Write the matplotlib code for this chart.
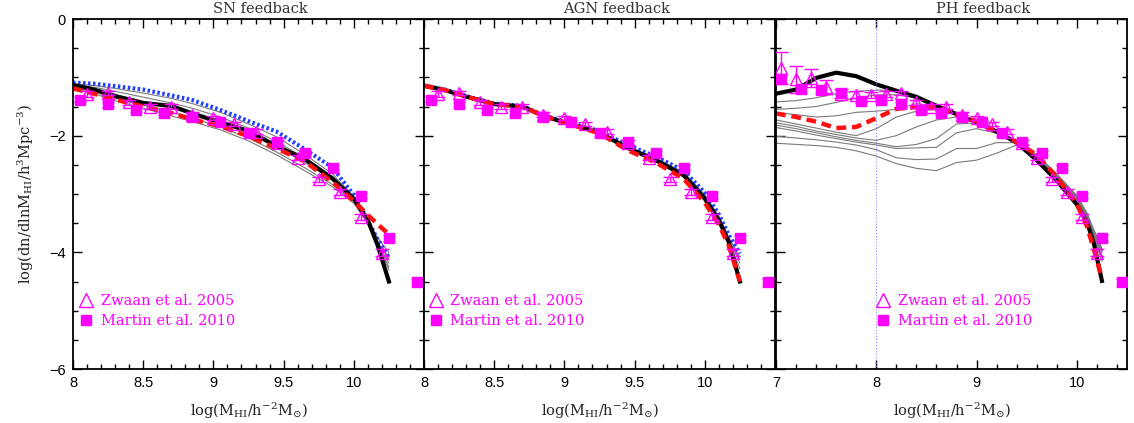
import matplotlib
matplotlib.use('Agg')
import matplotlib.pyplot as plt
from matplotlib.lines import Line2D
from matplotlib.ticker import FixedLocator, MultipleLocator, FuncFormatter

# observations (same in every panel)
zwaan_x = [7.05, 7.2, 7.35, 7.5, 7.65, 7.8, 7.95, 8.1, 8.25, 8.4, 8.55, 8.7,
           8.85, 9.0, 9.15, 9.3, 9.45, 9.6, 9.75, 9.9, 10.05, 10.2]
zwaan_y = [-0.84, -1.03, -1.01, -1.17, -1.28, -1.30, -1.30, -1.29, -1.27, -1.43, -1.50, -1.50,
           -1.64, -1.70, -1.80, -1.93, -2.12, -2.38, -2.75, -2.97, -3.40, -4.01]
zwaan_err = [0.28, 0.23, 0.15, 0.12, 0.08, 0.06, 0.05, 0.05, 0.04, 0.04, 0.04, 0.04,
             0.04, 0.04, 0.04, 0.04, 0.04, 0.04, 0.04, 0.05, 0.05, 0.06]
martin_x = [7.05, 7.25, 7.45, 7.65, 7.85, 8.05, 8.25, 8.45, 8.65, 8.85, 9.05, 9.25,
            9.45, 9.65, 9.85, 10.05, 10.25, 10.45]
martin_y = [-1.03, -1.20, -1.21, -1.26, -1.40, -1.385, -1.46, -1.56, -1.61, -1.68, -1.77, -1.96,
            -2.11, -2.30, -2.55, -3.03, -3.76, -4.51]
martin_err = [0.06, 0.05, 0.05, 0.04, 0.04, 0.04, 0.04, 0.04, 0.04, 0.04, 0.04, 0.04,
              0.04, 0.04, 0.04, 0.04, 0.05, 0.06]

# SN feedback models
sn_x = [8.0, 8.15, 8.3, 8.5, 8.7, 8.85, 9.05, 9.25, 9.45, 9.65, 9.85, 10.0, 10.1, 10.17, 10.25]
sn_black = [-1.13, -1.21, -1.32, -1.44, -1.49, -1.62, -1.77, -1.92, -2.18, -2.40, -2.74, -3.08, -3.45, -3.88, -4.50]
sn_red = [-1.19, -1.28, -1.38, -1.50, -1.61, -1.72, -1.84, -2.01, -2.22, -2.44, -2.80, -3.12, -3.36, -3.52, -3.69]
sn_blue = [-1.09, -1.11, -1.15, -1.21, -1.31, -1.39, -1.56, -1.75, -1.93, -2.23, -2.55, -3.02, -3.46, -3.78, -4.09]
sn_grey = [
    [-1.11, -1.14, -1.19, -1.27, -1.36, -1.45, -1.60, -1.80, -2.02, -2.32, -2.66, -3.05, -3.45, -3.75, -4.00],
    [-1.12, -1.17, -1.24, -1.34, -1.44, -1.53, -1.68, -1.87, -2.10, -2.38, -2.70, -3.08, -3.48, -3.82, -4.10],
    [-1.14, -1.21, -1.30, -1.41, -1.53, -1.62, -1.76, -1.95, -2.19, -2.46, -2.76, -3.10, -3.50, -3.85, -4.18],
    [-1.16, -1.25, -1.36, -1.48, -1.60, -1.70, -1.85, -2.04, -2.28, -2.55, -2.84, -3.14, -3.50, -3.86, -4.25],
    [-1.18, -1.28, -1.40, -1.53, -1.66, -1.76, -1.90, -2.09, -2.33, -2.60, -2.88, -3.16, -3.50, -3.88, -4.30],
]

# AGN feedback models
agn_x = [8.0, 8.15, 8.3, 8.5, 8.7, 8.85, 9.05, 9.25, 9.45, 9.65, 9.85, 10.0, 10.1, 10.17, 10.25]
agn_black = [-1.145, -1.22, -1.33, -1.46, -1.50, -1.66, -1.81, -1.95, -2.21, -2.42, -2.68, -3.08, -3.45, -3.82, -4.50]
agn_red = [-1.145, -1.22, -1.33, -1.46, -1.50, -1.66, -1.81, -1.96, -2.25, -2.46, -2.74, -3.15, -3.52, -3.88, -4.50]
agn_blue = [-1.14, -1.21, -1.32, -1.45, -1.49, -1.65, -1.79, -1.92, -2.16, -2.36, -2.60, -2.98, -3.35, -3.70, -4.02]
agn_grey = [
    [-1.14, -1.21, -1.32, -1.45, -1.49, -1.65, -1.80, -1.93, -2.18, -2.38, -2.63, -3.01, -3.38, -3.74, -4.08],
    [-1.14, -1.21, -1.32, -1.45, -1.50, -1.65, -1.80, -1.94, -2.19, -2.39, -2.64, -3.03, -3.40, -3.77, -4.18],
    [-1.145, -1.22, -1.33, -1.46, -1.50, -1.66, -1.81, -1.94, -2.20, -2.40, -2.66, -3.05, -3.42, -3.80, -4.28],
]

# PH feedback models
ph_x = [7.0, 7.2, 7.4, 7.6, 7.8, 8.0, 8.2, 8.4, 8.6, 8.8, 9.0, 9.2, 9.4, 9.6, 9.8, 10.0, 10.1, 10.17, 10.25]
ph_black = [-1.28, -1.21, -1.01, -0.92, -0.98, -1.12, -1.23, -1.34, -1.49, -1.63, -1.77, -1.93, -2.12, -2.42, -2.77,
            -3.18, -3.48, -3.85, -4.49]
ph_red = [-1.62, -1.68, -1.76, -1.87, -1.85, -1.70, -1.54, -1.51, -1.51, -1.64, -1.755, -1.93, -2.11, -2.33, -2.71,
          -3.17, -3.55, -3.95, -4.45]
ph_grey = [
    [-1.42, -1.40, -1.35, -1.28, -1.24, -1.22, -1.22, -1.30, -1.46, -1.62, -1.76, -1.92, -2.10, -2.35, -2.72, -3.15, -3.45, -3.75, -4.15],
    [-1.55, -1.53, -1.50, -1.43, -1.36, -1.30, -1.30, -1.35, -1.48, -1.62, -1.76, -1.92, -2.10, -2.34, -2.70, -3.12, -3.42, -3.72, -4.10],
    [-1.60, -1.64, -1.68, -1.66, -1.60, -1.58, -1.55, -1.45, -1.50, -1.63, -1.77, -1.92, -2.10, -2.34, -2.70, -3.10, -3.40, -3.70, -4.05],
    [-1.73, -1.80, -1.87, -1.94, -2.00, -1.88, -1.68, -1.58, -1.55, -1.63, -1.77, -1.93, -2.10, -2.33, -2.68, -3.08, -3.38, -3.68, -4.00],
    [-1.78, -1.84, -1.92, -1.98, -2.04, -2.08, -2.00, -1.85, -1.73, -1.68, -1.78, -1.94, -2.10, -2.33, -2.67, -3.06, -3.36, -3.66, -3.98],
    [-1.82, -1.88, -1.95, -2.02, -2.08, -2.13, -2.19, -2.15, -2.05, -1.80, -1.78, -1.95, -2.11, -2.33, -2.66, -3.04, -3.34, -3.64, -3.96],
    [-1.86, -1.92, -1.99, -2.05, -2.11, -2.16, -2.22, -2.21, -2.20, -1.95, -1.88, -1.96, -2.12, -2.33, -2.66, -3.03, -3.33, -3.62, -3.94],
    [-2.01, -2.04, -2.07, -2.11, -2.16, -2.24, -2.38, -2.41, -2.40, -2.22, -2.22, -2.12, -2.12, -2.34, -2.66, -3.03, -3.33, -3.62, -3.94],
    [-2.13, -2.15, -2.17, -2.20, -2.26, -2.35, -2.48, -2.56, -2.60, -2.46, -2.42, -2.30, -2.16, -2.36, -2.68, -3.05, -3.35, -3.64, -3.96],
]

titles = ['SN feedback', 'AGN feedback', 'PH feedback']
xlims = [(8, 10.5), (8, 10.5), (7, 10.5)]
xmajor = [[8, 8.5, 9, 9.5, 10], [8, 8.5, 9, 9.5, 10], [7, 8, 9, 10]]
xminor = [0.1, 0.1, 0.2]
title_pos = [0.533, 0.548, 0.59]
leg_x = [0.017, 0.012, 0.285]

plt.rcParams['mathtext.fontset'] = 'dejavuserif'
MAG = '#ff00ff'
serif = 'DejaVu Serif'

fig = plt.figure(figsize=(11.34, 4.23), dpi=100)
W, H = 1134.0, 423.0
axes = []
lefts = [73, 424, 776]
for i in range(3):
    ax = fig.add_axes([lefts[i] / W, 1 - 369 / H, 351 / W, 350 / H])
    axes.append(ax)

models = [
    (sn_x, sn_grey, sn_blue, sn_black, sn_red),
    (agn_x, agn_grey, agn_blue, agn_black, agn_red),
    (ph_x, ph_grey, None, ph_black, ph_red),
]

for i, ax in enumerate(axes):
    mx, greys, blue, black, red = models[i]
    for g in greys:
        ax.plot(mx, g, color='#7a7a7a', lw=0.8)
    if blue is not None:
        ax.plot(mx, blue, color='#1f3fff', lw=3, ls=(0, (0.6, 0.6)))
    ax.plot(mx, black, color='black', lw=3)
    ax.plot(mx, red, color='#ff1010', lw=3.2, ls=(0, (2.2, 1.3)))
    if i == 2:
        ax.axvline(8, color='#8c8cff', lw=0.8, ls=':')

    ax.errorbar(zwaan_x, zwaan_y, yerr=zwaan_err, fmt='^', ms=8, mfc='none', mec=MAG,
                mew=1.0, ecolor=MAG, elinewidth=1, capsize=5, zorder=5)
    ax.errorbar(martin_x, martin_y, yerr=martin_err, fmt='s', ms=7, mfc=MAG, mec=MAG,
                ecolor=MAG, elinewidth=1, capsize=4, zorder=6)

    ax.set_xlim(*xlims[i])
    ax.set_ylim(-6, 0)
    ax.xaxis.set_major_locator(FixedLocator(xmajor[i]))
    ax.xaxis.set_minor_locator(MultipleLocator(xminor[i]))
    ax.yaxis.set_major_locator(FixedLocator([-6, -4, -2, 0]))
    ax.yaxis.set_minor_locator(MultipleLocator(0.5))
    ax.xaxis.set_major_formatter(FuncFormatter(lambda v, p: '%g' % v))
    ax.tick_params(which='both', direction='in', top=True, right=True, width=1.0)
    ax.tick_params(which='major', length=6.5, labelsize=10.5, pad=5)
    ax.tick_params(which='minor', length=3.4)
    for lab in ax.get_xticklabels() + ax.get_yticklabels():
        lab.set_fontfamily('Liberation Sans')
    if i > 0:
        ax.set_yticklabels([])
    for s in ax.spines.values():
        s.set_linewidth(1.3)

    ax.text(title_pos[i], 1.029, titles[i], transform=ax.transAxes, ha='center', va='center',
            fontsize=10.5, family=serif, color='#333333')
    ax.set_xlabel(r'log(M$_{\rm HI}$/h$^{-2}$M$_{\odot}$)', fontsize=10.5, family=serif,
                  labelpad=8, color='#222222')

    handles = [Line2D([], [], ls='none', marker='^', ms=10, mfc='none', mec=MAG, mew=1.0),
               Line2D([], [], ls='none', marker='s', ms=7, mfc=MAG, mec=MAG)]
    ax.legend(handles, ['Zwaan et al. 2005', 'Martin et al. 2010'], loc='upper left',
              bbox_to_anchor=(leg_x[i], 0.215), frameon=False, labelcolor=MAG,
              prop={'family': serif, 'size': 10.5}, handlelength=1.0, handletextpad=0.5,
              borderaxespad=0, borderpad=0, labelspacing=0.45)

axes[0].set_ylabel(r'log(dn/dlnM$_{\rm HI}$/h$^3$Mpc$^{-3}$)', fontsize=10.5, family=serif,
                   labelpad=10, color='#222222')

fig.savefig('out.png', dpi=100)
